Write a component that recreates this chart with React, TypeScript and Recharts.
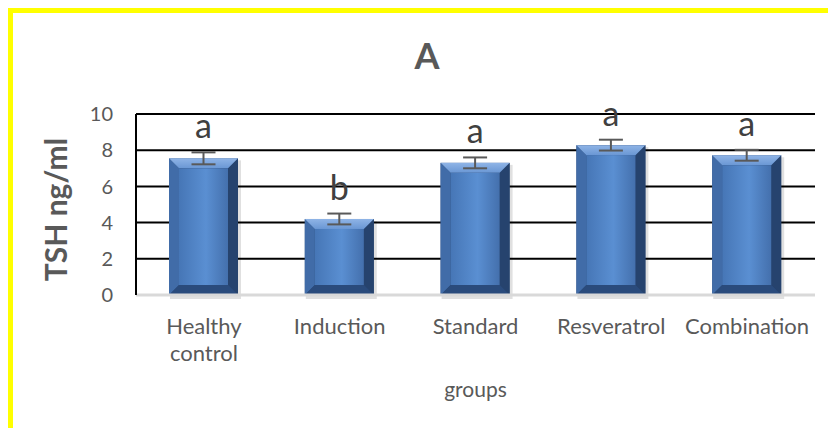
import { BarChart, Bar, XAxis, YAxis, CartesianGrid, ErrorBar } from "recharts"

const groups = ["Healthy control", "Induction", "Standard", "Resveratrol", "Combination"]
const tshMeans = [7.55, 4.2, 7.3, 8.28, 7.72]
const tshSd = [0.33, 0.3, 0.3, 0.3, 0.3]
const letters = ["a", "b", "a", "a", "a"]
const yTicks = [0, 2, 4, 6, 8, 10]

const data = groups.map((group, i) => ({
    group,
    tsh: tshMeans[i],
    sd: tshSd[i],
    letter: letters[i],
}))

const FONT = "Lato, 'Open Sans', sans-serif"
const TEXT = "#595959"

// bevelled blue column, with its significance letter above the error bar
const BevelBar = (props: any) => {
    const { x, y, width, height, index, payload } = props
    if (!height || height <= 0) return null
    const b = Math.min(10, width / 4, height / 4)
    const id = `bar-face-${index}`
    const topId = `bar-top-${index}`
    const pxPerUnit = height / payload.tsh
    const letterY = y - payload.sd * pxPerUnit - 14
    const r = x + width
    const bot = y + height
    return (
        <g>
            <defs>
                <linearGradient id={id} x1="0" y1="0" x2="1" y2="0">
                    <stop offset="0" stopColor="#4676b6" />
                    <stop offset="0.55" stopColor="#5a8fd2" />
                    <stop offset="1" stopColor="#4470ad" />
                </linearGradient>
                <linearGradient id={topId} x1="0" y1="0" x2="0" y2="1">
                    <stop offset="0" stopColor="#8fb4e6" />
                    <stop offset="1" stopColor="#6a97d4" />
                </linearGradient>
            </defs>
            <rect x={x + 1} y={y + 2} width={width + 2} height={height + 2} fill="rgba(0,0,0,0.12)" />
            <rect x={x} y={y} width={width} height={height} fill="#2b4a78" />
            <polygon points={`${x},${y} ${x + b},${y + b} ${x + b},${bot - b} ${x},${bot}`} fill="#416ca8" />
            <polygon points={`${r},${y} ${r - b},${y + b} ${r - b},${bot - b} ${r},${bot}`} fill="#26436e" />
            <polygon points={`${x},${y} ${r},${y} ${r - b},${y + b} ${x + b},${y + b}`} fill={`url(#${topId})`} />
            <polygon points={`${x},${bot} ${r},${bot} ${r - b},${bot - b} ${x + b},${bot - b}`} fill="#2a4b7c" />
            <rect x={x + b} y={y + b} width={width - 2 * b} height={height - 2 * b} fill={`url(#${id})`} />
            <text
                x={x + width / 2}
                y={letterY}
                textAnchor="middle"
                fill="#404040"
                fontSize={34}
                fontFamily={FONT}
            >
                {payload.letter}
            </text>
        </g>
    )
}

const GroupTick = ({ x, y, payload }: any) => {
    const words = String(payload.value).split(" ")
    return (
        <text x={x} y={y} textAnchor="middle" fill={TEXT} fontSize={22} fontFamily={FONT}>
            {words.map((w, i) => (
                <tspan key={i} x={x} dy={i === 0 ? 31 : 27}>
                    {w}
                </tspan>
            ))}
        </text>
    )
}

const YLabel = ({ viewBox }: any) => {
    const cx = viewBox.x + 19
    const cy = viewBox.y + viewBox.height / 2 + 5
    return (
        <text
            x={cx}
            y={cy}
            transform={`rotate(-90 ${cx} ${cy})`}
            textAnchor="middle"
            dominantBaseline="central"
            fill={TEXT}
            fontSize={30}
            fontWeight={700}
            fontFamily={FONT}
        >
            TSH ng/ml
        </text>
    )
}

const XLabel = ({ viewBox }: any) => (
    <text
        x={viewBox.x + viewBox.width / 2}
        y={viewBox.y + 102}
        textAnchor="middle"
        fill={TEXT}
        fontSize={21}
        fontFamily={FONT}
    >
        groups
    </text>
)

export default function App() {
    return (
        <div style={{ position: "relative", width: 836, height: 436, margin: -8, background: "#fff", overflow: "hidden" }}>
            <div
                style={{
                    position: "absolute",
                    left: 5,
                    top: 5,
                    right: -10,
                    bottom: 1,
                    borderLeft: "8px solid #ffff00",
                    borderTop: "8px solid #ffff00",
                    borderTopLeftRadius: 4,
                }}
            />
            <div style={{ position: "absolute", left: 5, right: 0, top: 435, height: 1, background: "#ffff99" }} />
            <BarChart
                width={836}
                height={436}
                data={data}
                margin={{ top: 114, right: 21, left: 36, bottom: 0 }}
                style={{ position: "absolute", left: 0, top: 0 }}
            >
                <text x={427} y={69} textAnchor="middle" fill={TEXT} fontSize={36} fontWeight={700} fontFamily={FONT}>
                    A
                </text>
                <CartesianGrid vertical={false} stroke="#000" strokeWidth={2} />
                <XAxis
                    dataKey="group"
                    height={141}
                    interval={0}
                    tickLine={false}
                    axisLine={{ stroke: "#d9d9d9", strokeWidth: 3 }}
                    tick={<GroupTick />}
                    label={<XLabel />}
                />
                <YAxis
                    width={100}
                    domain={[0, 10]}
                    ticks={yTicks}
                    tickLine={false}
                    tickMargin={17}
                    axisLine={{ stroke: "#000", strokeWidth: 2 }}
                    tick={{ fill: TEXT, fontSize: 20, fontFamily: FONT }}
                    label={<YLabel />}
                />
                <Bar dataKey="tsh" barSize={69} shape={<BevelBar />} isAnimationActive={false}>
                    <ErrorBar dataKey="sd" width={12} stroke="#595959" strokeWidth={2} direction="y" />
                </Bar>
            </BarChart>
        </div>
    )
}
